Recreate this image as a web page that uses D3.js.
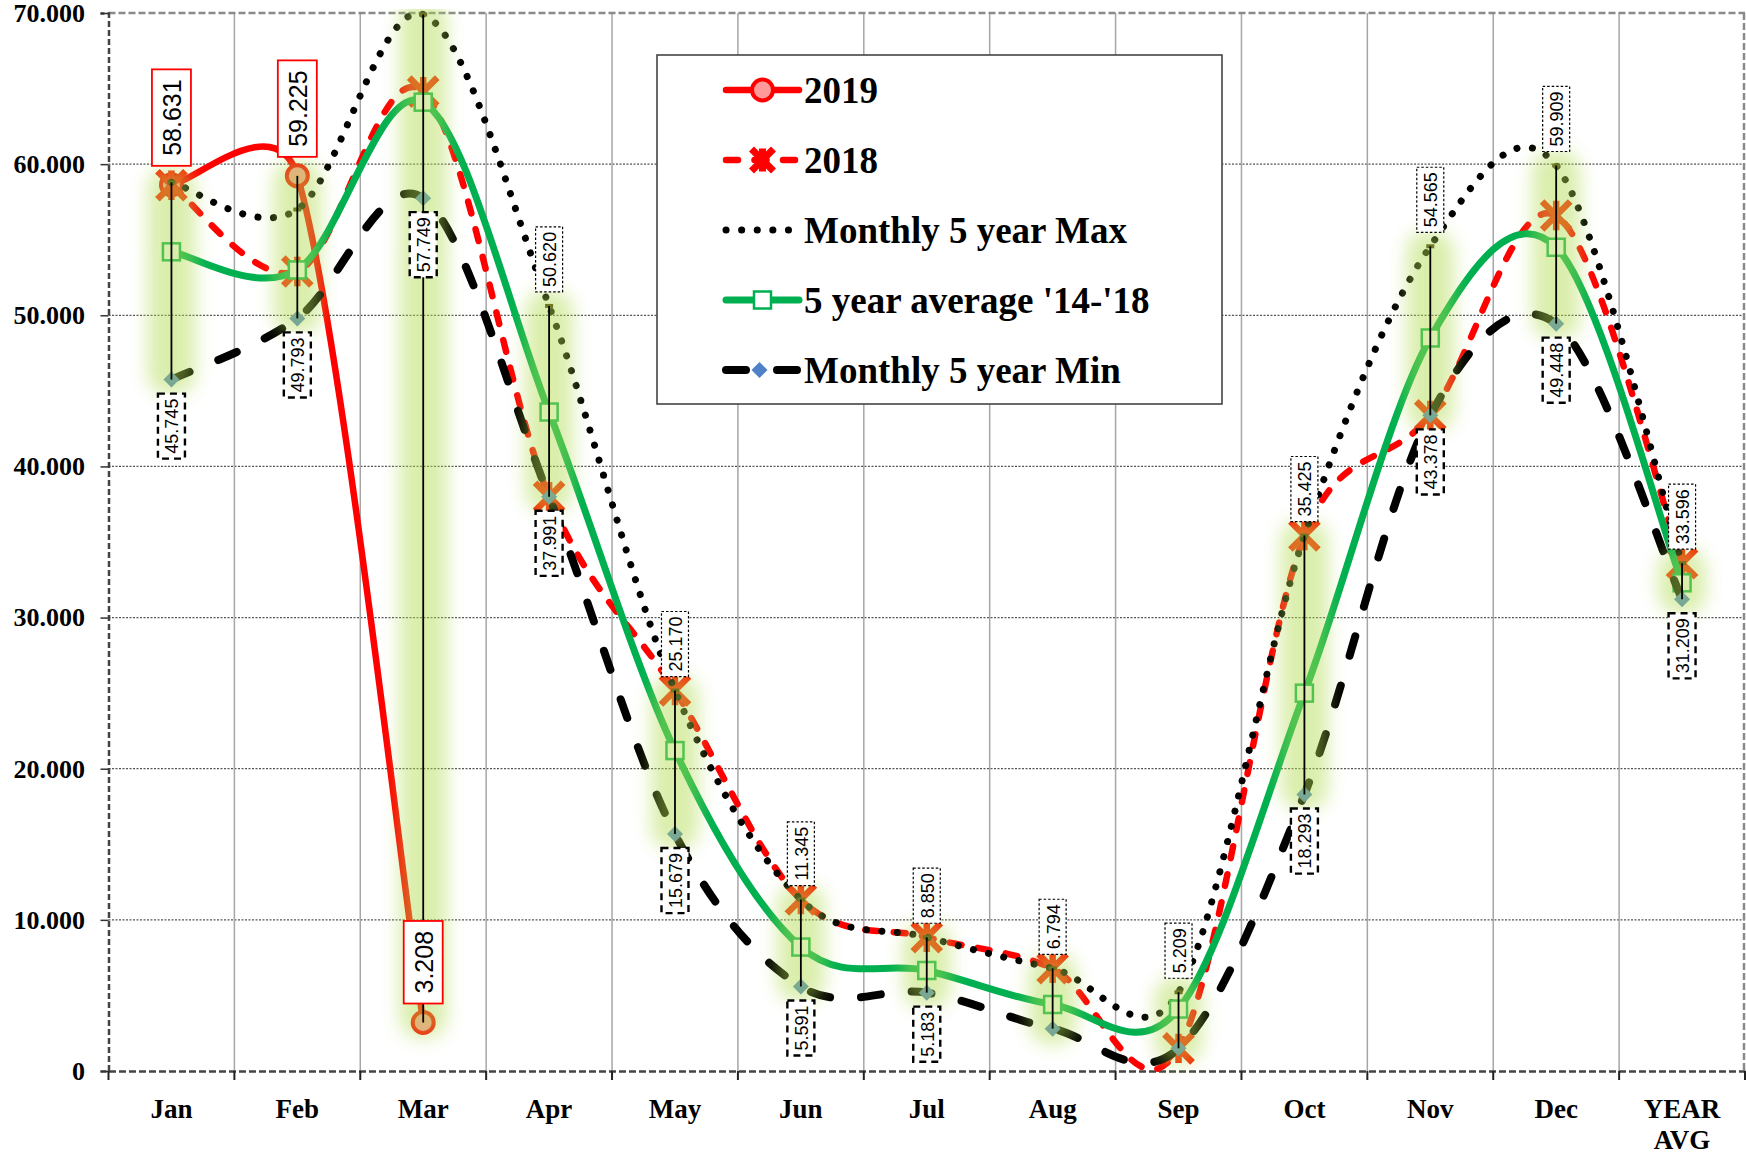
<!DOCTYPE html>
<html>
<head>
<meta charset="utf-8">
<script src="https://cdn.jsdelivr.net/npm/d3@7"></script>
<style>
body { margin: 0; background: #fff; }
svg { display: block; }
</style>
</head>
<body>
<div id="chart"></div>
<script>
// ---- data ----
var categories = ["Jan", "Feb", "Mar", "Apr", "May", "Jun", "Jul", "Aug", "Sep", "Oct", "Nov", "Dec", "YEAR AVG"];
var y2019 = [58.631, 59.225, 3.208];
var y2018 = [58.6, 52.9, 64.8, 37.991, 25.170, 11.345, 8.850, 6.794, 1.5, 35.425, 43.378, 56.6, 33.596];
var maxValues = [58.8, 57.0, 69.9, 50.620, 25.170, 11.345, 8.850, 6.794, 5.209, 35.425, 54.565, 59.909, 33.596];
var avgValues = [54.2, 53.0, 64.1, 43.6, 21.2, 8.2, 6.65, 4.4, 4.1, 25.0, 48.5, 54.5, 32.3];
var minValues = [45.745, 49.793, 57.749, 37.991, 15.679, 5.591, 5.183, 2.8, 1.5, 18.293, 43.378, 49.448, 31.209];
// which data labels are visible in the original
var maxLabelShown = [false, false, false, true, true, true, true, true, true, true, true, true, true];
var minLabelShown = [true, true, true, true, true, true, true, false, false, true, true, true, true];
var yTicks = [0, 10, 20, 30, 40, 50, 60, 70];
var legendNames = ["2019", "2018", "Monthly 5 year Max", "5 year average '14-'18", "Monthly 5 year Min"];

var W = 1746, H = 1157;
var plot = {left: 108.5, right: 1745, top: 13, bottom: 1071};
var serif = "'Liberation Serif', 'Times New Roman', serif";
var sans = "'Liberation Sans', Arial, sans-serif";

var svg = d3.select("#chart").append("svg")
    .attr("width", W)
    .attr("height", H);

var x = d3.scaleBand().domain(categories).range([plot.left, plot.right]);
var y = d3.scaleLinear().domain([0, 70]).range([plot.bottom, plot.top]);
var bw = x.bandwidth();

function cx(i) {
    return x(categories[i]) + bw / 2;
}

function pts(vals) {
    return vals.map(function(v, i) { return {x: cx(i), y: y(v), v: v, i: i}; });
}

// spreadsheet-style smoothing: catmull-rom tangents, arms capped by segment length
function smoothPath(p) {
    var cap = 0.58, n = p.length;
    var path = d3.path();
    function tan(i) {
        var a = p[Math.max(i - 1, 0)], b = p[Math.min(i + 1, n - 1)];
        return {x: (b.x - a.x) / 6, y: (b.y - a.y) / 6};
    }
    function limit(t, maxLen) {
        var len = Math.hypot(t.x, t.y);
        if (len > maxLen && len > 0) return {x: t.x * maxLen / len, y: t.y * maxLen / len};
        return t;
    }
    path.moveTo(p[0].x, p[0].y);
    for (var i = 0; i < n - 1; i++) {
        var seg = Math.hypot(p[i + 1].x - p[i].x, p[i + 1].y - p[i].y);
        var t1 = limit(tan(i), cap * seg), t2 = limit(tan(i + 1), cap * seg);
        path.bezierCurveTo(p[i].x + t1.x, p[i].y + t1.y,
            p[i + 1].x - t2.x, p[i + 1].y - t2.y, p[i + 1].x, p[i + 1].y);
    }
    return path.toString();
}

var defs = svg.append("defs");
defs.append("filter").attr("id", "glow")
    .attr("x", "-100%").attr("y", "-20%").attr("width", "300%").attr("height", "140%")
    .append("feGaussianBlur").attr("stdDeviation", 9);
defs.append("clipPath").attr("id", "plotClip")
    .append("rect")
    .attr("x", plot.left).attr("y", plot.top - 4)
    .attr("width", plot.right - plot.left).attr("height", plot.bottom - plot.top + 8);

// ---- grid ----
var grid = svg.append("g");
grid.selectAll("line.h")
    .data(yTicks.filter(function(d) { return d > 0 && d < 70; }))
    .join("line")
    .attr("x1", plot.left).attr("x2", plot.right)
    .attr("y1", function(d) { return y(d); }).attr("y2", function(d) { return y(d); })
    .attr("stroke", "#555").attr("stroke-width", 1.3).attr("stroke-dasharray", "2 1.5");

var bounds = d3.range(0, categories.length + 1).map(function(i) { return plot.left + i * bw; });
grid.selectAll("line.v")
    .data(bounds.slice(1, -1))
    .join("line")
    .attr("x1", function(d) { return d; }).attr("x2", function(d) { return d; })
    .attr("y1", plot.top).attr("y2", plot.bottom)
    .attr("stroke", "#a6a6a6").attr("stroke-width", 1.5);

// frame: dashed borders
grid.append("line").attr("x1", plot.left).attr("x2", plot.right).attr("y1", plot.top).attr("y2", plot.top)
    .attr("stroke", "#8a8a8a").attr("stroke-width", 2.5).attr("stroke-dasharray", "7 3");
grid.append("line").attr("x1", plot.right - 1).attr("x2", plot.right - 1).attr("y1", plot.top).attr("y2", plot.bottom)
    .attr("stroke", "#8a8a8a").attr("stroke-width", 2.5).attr("stroke-dasharray", "7 3");

// ---- axes ----
var yAxis = svg.append("g")
    .attr("transform", "translate(" + plot.left + ",0)")
    .call(d3.axisLeft(y).tickValues(yTicks).tickSize(8).tickPadding(15.5)
        .tickFormat(function(d) { return d === 0 ? "0" : d3.format(".3f")(d); }));
yAxis.select(".domain").attr("stroke", "#444").attr("stroke-width", 2.5).attr("stroke-dasharray", "6 3");
yAxis.selectAll(".tick line").attr("stroke", "#333").attr("stroke-width", 1.5);
yAxis.selectAll("text")
    .style("font-family", serif).style("font-weight", "bold").style("font-size", "26px").attr("fill", "#000");

var xAxis = svg.append("g")
    .attr("transform", "translate(0," + plot.bottom + ")")
    .call(d3.axisBottom(x).tickSize(0).tickPadding(28));
xAxis.select(".domain").attr("stroke", "#444").attr("stroke-width", 2.5).attr("stroke-dasharray", "7 3");
xAxis.selectAll("text")
    .style("font-family", serif).style("font-weight", "bold").style("font-size", "27px").attr("fill", "#000")
    .each(function(d) {
        var words = d.split(" ");
        if (words.length < 2) return;
        var t = d3.select(this).text(null).attr("dy", null);
        words.forEach(function(w, k) {
            t.append("tspan").attr("x", 0).attr("dy", k === 0 ? "0.71em" : "1.15em").text(w);
        });
    });
svg.append("g").selectAll("line")
    .data(bounds)
    .join("line")
    .attr("x1", function(d) { return d; }).attr("x2", function(d) { return d; })
    .attr("y1", plot.bottom).attr("y2", plot.bottom + 9)
    .attr("stroke", "#222").attr("stroke-width", 2);

// ---- series ----
var series = svg.append("g").attr("clip-path", "url(#plotClip)");

function starPath(s) {
    return "M" + (-s) + "," + (-s) + "L" + s + "," + s +
        "M" + s + "," + (-s) + "L" + (-s) + "," + s +
        "M0," + (-s * 1.05) + "L0," + (s * 1.05);
}

// 2019
var p2019 = pts(y2019);
series.append("path").attr("d", smoothPath(p2019))
    .attr("fill", "none").attr("stroke", "#ff0000").attr("stroke-width", 6.5);
series.selectAll("circle.m2019").data(p2019).join("circle")
    .attr("cx", function(d) { return d.x; }).attr("cy", function(d) { return d.y; })
    .attr("r", 10.5).attr("fill", "#ff9a9a").attr("stroke", "#ff0000").attr("stroke-width", 4);

// 2018
var p2018 = pts(y2018);
series.append("path").attr("d", smoothPath(p2018))
    .attr("fill", "none").attr("stroke", "#ff0000").attr("stroke-width", 6.5)
    .attr("stroke-linecap", "round").attr("stroke-dasharray", "12 16.5");
series.selectAll("path.m2018").data(p2018).join("path")
    .attr("transform", function(d) { return "translate(" + d.x + "," + d.y + ")"; })
    .attr("d", starPath(14)).attr("fill", "none").attr("stroke", "#ff1a00").attr("stroke-width", 6.5);

// max
var pMax = pts(maxValues);
series.append("path").attr("d", smoothPath(pMax))
    .attr("fill", "none").attr("stroke", "#000").attr("stroke-width", 7)
    .attr("stroke-linecap", "round").attr("stroke-dasharray", "0.1 15.5");
series.selectAll("rect.mmax").data(pMax).join("rect")
    .attr("x", function(d) { return d.x - 4; }).attr("y", function(d) { return d.y - 2; })
    .attr("width", 8).attr("height", 4).attr("fill", "#3a2a00");

// 5 year average
var pAvg = pts(avgValues);
series.append("path").attr("d", smoothPath(pAvg))
    .attr("fill", "none").attr("stroke", "#00b050").attr("stroke-width", 7);
series.selectAll("rect.mavg").data(pAvg).join("rect")
    .attr("x", function(d) { return d.x - 8.5; }).attr("y", function(d) { return d.y - 8.5; })
    .attr("width", 17).attr("height", 17)
    .attr("fill", "#fff").attr("stroke", "#00b050").attr("stroke-width", 2.5);

// min
var pMin = pts(minValues);
series.append("path").attr("d", smoothPath(pMin))
    .attr("fill", "none").attr("stroke", "#000").attr("stroke-width", 8)
    .attr("stroke-linecap", "round").attr("stroke-dasharray", "20 31");
series.selectAll("path.mmin").data(pMin).join("path")
    .attr("transform", function(d) { return "translate(" + d.x + "," + d.y + ")"; })
    .attr("d", "M0,-8L8,0L0,8L-8,0Z").attr("fill", "#4f81c7");

// ---- high-low lines with glow ----
var hiLo = categories.map(function(c, i) {
    var vals = [y2018[i], maxValues[i], avgValues[i], minValues[i]];
    if (i < y2019.length) vals.push(y2019[i]);
    return {i: i, hi: d3.max(vals), lo: d3.min(vals)};
});
var glow = svg.append("g").attr("clip-path", "url(#plotClip)");
glow.selectAll("rect").data(hiLo).join("rect")
    .attr("x", function(d) { return cx(d.i) - 24; })
    .attr("y", function(d) { return y(d.hi) - 16; })
    .attr("width", 48)
    .attr("height", function(d) { return y(d.lo) - y(d.hi) + 32; })
    .attr("rx", 22)
    .attr("fill", "#b1db4f").attr("opacity", 0.47)
    .attr("filter", "url(#glow)");
svg.append("g").selectAll("line").data(hiLo).join("line")
    .attr("x1", function(d) { return cx(d.i); }).attr("x2", function(d) { return cx(d.i); })
    .attr("y1", function(d) { return y(d.hi); }).attr("y2", function(d) { return y(d.lo); })
    .attr("stroke", "#000").attr("stroke-width", 1.8);

// ---- data labels (rotated) ----
var labels = svg.append("g");
function addLabel(px, py, value, above, opt) {
    var g = labels.append("g");
    var box = g.append("rect");
    var t = g.append("text")
        .attr("dominant-baseline", "central")
        .style("font-family", sans).style("font-size", opt.size + "px").attr("fill", "#000")
        .text(d3.format(".3f")(value));
    var len = t.node().getComputedTextLength();
    var h = len + 2 * opt.pad, w = opt.width;
    var top = above ? py - opt.gap - h : py + opt.gap;
    box.attr("x", px - w / 2).attr("y", top).attr("width", w).attr("height", h)
        .attr("fill", opt.fill).attr("stroke", opt.stroke).attr("stroke-width", opt.sw)
        .attr("stroke-dasharray", opt.dash);
    t.attr("text-anchor", "middle")
        .attr("transform", "translate(" + (px + 1) + "," + (top + h / 2) + ") rotate(-90)");
}
var opt2019 = {size: 25, pad: 10, width: 39, gap: 19, fill: "#fff", stroke: "#ff0000", sw: 1.8, dash: null};
var optMax = {size: 18, pad: 5, width: 27, gap: 14, fill: "#fff", stroke: "#000", sw: 1.2, dash: "2.5 2"};
var optMin = {size: 18, pad: 5, width: 27, gap: 14, fill: "#fff", stroke: "#000", sw: 2.4, dash: "7 5"};

p2019.forEach(function(d) { addLabel(d.x, d.y, d.v, true, opt2019); });
pMax.forEach(function(d) { if (maxLabelShown[d.i]) addLabel(d.x, d.y, d.v, true, optMax); });
pMin.forEach(function(d) { if (minLabelShown[d.i]) addLabel(d.x, d.y, d.v, false, optMin); });

// ---- legend ----
var legend = svg.append("g");
legend.append("rect")
    .attr("x", 657).attr("y", 55).attr("width", 565).attr("height", 349)
    .attr("fill", "#fff").attr("stroke", "#444").attr("stroke-width", 1.6);

var rowY = d3.scalePoint().domain(legendNames).range([90, 370]);
var lx1 = 726, lx2 = 799, lmid = 762.5;

legendNames.forEach(function(name, k) {
    var ly = rowY(name);
    var row = legend.append("g");
    var ln = row.append("line").attr("x1", lx1).attr("x2", lx2).attr("y1", ly).attr("y2", ly)
        .attr("fill", "none").attr("stroke-linecap", "round");
    if (k === 0) {
        ln.attr("stroke", "#ff0000").attr("stroke-width", 6.5);
        row.append("circle").attr("cx", lmid).attr("cy", ly).attr("r", 10.5)
            .attr("fill", "#ff9a9a").attr("stroke", "#ff0000").attr("stroke-width", 4);
    } else if (k === 1) {
        ln.attr("stroke", "#ff0000").attr("stroke-width", 6.5).attr("stroke-dasharray", "12 16.5");
        row.append("path").attr("transform", "translate(" + lmid + "," + ly + ")")
            .attr("d", starPath(11)).attr("stroke", "#ff0000").attr("stroke-width", 7);
    } else if (k === 2) {
        ln.attr("stroke", "#000").attr("stroke-width", 7).attr("stroke-dasharray", "0.1 15.5");
    } else if (k === 3) {
        ln.attr("stroke", "#00b050").attr("stroke-width", 7);
        row.append("rect").attr("x", lmid - 8.5).attr("y", ly - 8.5).attr("width", 17).attr("height", 17)
            .attr("fill", "#fff").attr("stroke", "#00b050").attr("stroke-width", 2.5);
    } else {
        ln.attr("stroke", "#000").attr("stroke-width", 8).attr("stroke-dasharray", "20 31");
        row.append("path").attr("transform", "translate(" + (lmid - 3) + "," + ly + ")")
            .attr("d", "M0,-8L8,0L0,8L-8,0Z").attr("fill", "#4f81c7");
    }
    row.append("text")
        .attr("x", 804).attr("y", ly + 12.5)
        .style("font-family", serif).style("font-weight", "bold").style("font-size", "37px")
        .attr("fill", "#000")
        .text(name);
});
</script>
</body>
</html>
